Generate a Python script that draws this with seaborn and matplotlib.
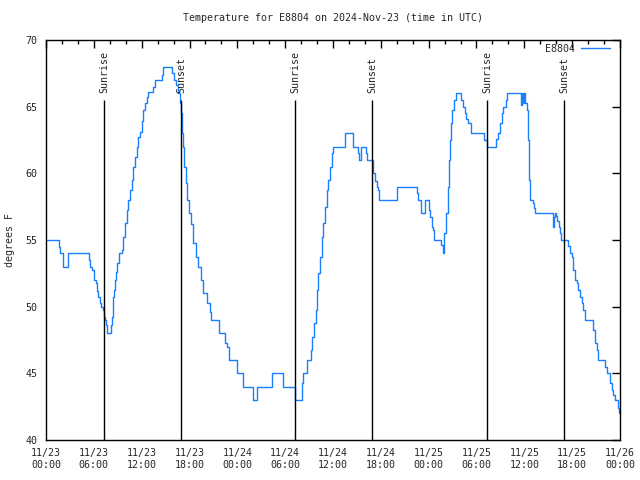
import matplotlib
matplotlib.use('Agg')
import matplotlib.pyplot as plt
from matplotlib.ticker import MultipleLocator
import seaborn as sns
import pandas as pd

# hours since 11/23 00:00 UTC and temperature in F
heures = [0, 1.5, 1.6, 1.75, 2.05, 2.15, 2.6, 2.7, 5.3, 5.4, 5.52, 5.81, 6.02, 6.23, 6.44,
          6.56, 6.77, 6.94, 7.15, 7.28, 7.4, 7.53, 7.7, 7.99, 8.1, 8.24, 8.4, 8.53, 8.66, 8.82,
          8.95, 9.16, 9.5, 9.7, 9.91, 10.12, 10.33, 10.54, 10.75, 10.95, 11.16, 11.37, 11.58,
          11.79, 12.0, 12.2, 12.42, 12.63, 12.84, 13.26, 13.46, 13.67, 14.3, 14.59, 14.72,
          15.68, 15.85, 16.06, 16.3, 16.6, 16.8, 16.94, 17.02, 17.14, 17.3, 17.52, 17.73,
          17.94, 18.15, 18.48, 18.77, 19.1, 19.44, 19.73, 20.15, 20.57, 20.7, 21.5, 21.74,
          22.25, 22.45, 22.74, 22.95, 23.7, 23.92, 24.55, 24.75, 25.8, 26.0, 26.3, 26.5, 28.1,
          28.3, 29.56, 29.77, 31.1, 31.23, 31.78, 32.07, 32.28, 32.57, 32.78, 33.03, 33.2,
          33.4, 33.6, 33.83, 33.95, 34.16, 34.37, 34.58, 34.79, 35.0, 35.2, 35.4, 35.6, 35.84,
          36.04, 37.3, 37.5, 38.26, 38.55, 38.97, 39.18, 39.3, 39.47, 40.0, 40.2, 40.3, 40.85,
          41.06, 41.27, 41.48, 41.6, 41.8, 43.78, 44.0, 46.3, 46.5, 46.6, 46.8, 47.0, 47.3,
          47.5, 47.8, 48.0, 48.2, 48.4, 48.6, 48.7, 49.4, 49.55, 49.84, 49.96, 50.18, 50.4,
          50.55, 50.7, 50.8, 50.97, 51.2, 51.4, 51.84, 52.05, 52.35, 52.56, 52.7, 52.97, 53.27,
          54.8, 55.0, 55.3, 56.3, 56.5, 56.7, 56.95, 57.16, 57.37, 57.58, 57.7, 57.87, 59.37,
          59.55, 59.7, 59.8, 59.9, 60.1, 60.3, 60.4, 60.45, 60.6, 60.7, 60.9, 61.05, 61.2,
          61.3, 63.4, 63.55, 63.7, 63.85, 63.97, 64.1, 64.3, 64.5, 64.64, 65.4, 65.5, 65.7,
          65.98, 66.15, 66.36, 66.57, 66.77, 67.0, 67.2, 67.4, 67.6, 68.45, 68.65, 68.86,
          69.07, 69.28, 70.0, 70.1, 70.33, 70.5, 70.74, 70.95, 71.16, 71.37, 71.66, 71.8, 71.9]
temperatures = [55, 55, 54.5, 54, 54, 53, 53, 54, 54, 53.5, 53, 52.75, 52, 51.8, 51.2,
                50.75, 50.25, 50, 49.75, 49.25, 49, 48.6, 48, 48, 48.6, 49.2, 50.7, 51.25, 52, 52.6,
                53.25, 54, 54.25, 55.25, 56.25, 57.25, 58, 58.75, 59.5, 60.5, 61.25, 62, 62.75,
                63.1, 63.9, 64.75, 65.25, 65.75, 66.1, 66.1, 66.5, 67, 67, 67.4, 68,
                68, 67.5, 67, 66.6, 66, 65.25, 64.5, 63, 62, 60.5, 59.25, 58,
                57, 56.2, 54.75, 53.75, 53, 52, 51, 50.25, 49.6, 49, 49, 48,
                48, 47.25, 47, 46, 46, 45, 45, 44, 44, 43, 43, 44, 44,
                45, 45, 44, 44, 43, 43, 44.25, 45, 45, 46, 46, 46.75,
                47.75, 48.75, 49.75, 51.25, 52.5, 53.75, 55.25, 56.25, 57.5, 58.75, 59.5, 60.5, 61.5,
                62, 62, 63, 63, 62, 62, 61.5, 61, 62, 62, 61.5, 61, 61,
                60.0, 59.4, 59, 58.75, 58, 58, 59, 59, 58.5, 58, 58, 57, 57,
                58, 58, 57.25, 56.75, 56, 55.75, 55, 55, 54.6, 54.05, 55.5, 57, 59,
                61, 62.5, 63.75, 64.75, 65.5, 66, 66, 65.5, 65, 64.5, 64.05, 63.75, 63,
                63, 62.5, 62, 62, 62.6, 63, 63.75, 64.5, 65, 65, 65.5, 66, 66,
                65.1, 66, 65.3, 66, 65.25, 64.75, 62.5, 62.5, 59.5, 58, 58, 57.75, 57.4,
                57, 57, 56, 56.7, 57, 56.8, 56.4, 56, 55.5, 55, 55, 54.55, 54,
                53.75, 52.75, 52, 51.75, 51.25, 50.75, 50.25, 49.75, 49, 49, 48.25, 47.25,
                46.75, 46, 46, 45.5, 45, 45, 44.25, 43.75, 43.4, 43, 43, 42.4, 42]

lever_soleil = [7.28, 31.24, 55.33]
coucher_soleil = [16.94, 40.9, 65.0]

positions_ticks = [0, 6, 12, 18, 24, 30, 36, 42, 48, 54, 60, 66, 72]
etiquettes_ticks = ['11/23\n00:00', '11/23\n06:00', '11/23\n12:00', '11/23\n18:00',
                    '11/24\n00:00', '11/24\n06:00', '11/24\n12:00', '11/24\n18:00',
                    '11/25\n00:00', '11/25\n06:00', '11/25\n12:00', '11/25\n18:00',
                    '11/26\n00:00']

donnees = pd.DataFrame({'heure': heures, 'temp': temperatures})

sns.set_style('white')
plt.rcParams['font.family'] = ['DejaVu Sans Mono']
plt.rcParams['font.size'] = 7.2

fig = plt.figure(figsize=(6.4, 4.8), dpi=100)
ax = fig.add_axes([46 / 640, 40 / 480, 574 / 640, 400 / 480])

sns.lineplot(x='heure', y='temp', data=donnees, ax=ax, color='#1a7fff', linewidth=1,
             estimator=None, sort=False, drawstyle='steps-post', label='E8804')

for h in lever_soleil:
    ax.vlines(h, 40, 65.5, color='black', linewidth=1)
    ax.text(h, 66, 'Sunrise', rotation=90, ha='center', va='bottom')
for h in coucher_soleil:
    ax.vlines(h, 40, 65.5, color='black', linewidth=1)
    ax.text(h, 66, 'Sunset', rotation=90, ha='center', va='bottom')

ax.set_xlim(0, 72)
ax.set_ylim(40, 70)
ax.set_xticks(positions_ticks)
ax.set_xticklabels(etiquettes_ticks)
ax.xaxis.set_minor_locator(MultipleLocator(2))
ax.set_yticks(range(40, 71, 5))
ax.tick_params(which='both', direction='in', top=True, right=True, color='black', width=1)
ax.tick_params(axis='x', which='major', length=6, pad=6)
ax.tick_params(axis='x', which='minor', length=3)
ax.tick_params(axis='y', length=6, pad=6)
for s in ax.spines.values():
    s.set_color('black')
    s.set_linewidth(1)

ax.set_xlabel('')
ax.set_ylabel('degrees F', labelpad=8)
ax.set_title('Temperature for E8804 on 2024-Nov-23 (time in UTC)', pad=14, fontsize=7.2)
ax.legend(loc='upper right', bbox_to_anchor=(1 - 6 / 574, 1), borderaxespad=0,
          frameon=False, markerfirst=False, handlelength=2.9, handletextpad=0.6)

fig.savefig('out.png', dpi=100)
